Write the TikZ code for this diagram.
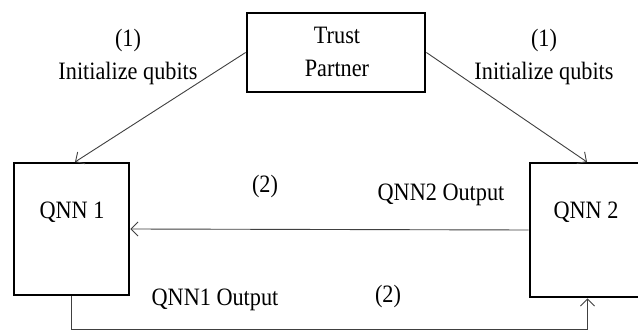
\documentclass[tikz,border=0pt]{standalone}
\usepackage{fontspec}
\setmainfont{Liberation Serif}[FakeStretch=0.89]
\usetikzlibrary{arrows.meta}
\begin{document}
\begin{tikzpicture}[x=1pt,y=-1pt,
  box/.style={draw=black,line width=2.8pt,inner sep=0pt},
  conn/.style={draw=black!75,line width=0.9pt},
  tip/.style={-{Straight Barb[length=7pt,width=14pt,line width=0.9pt]}},
  lbl/.style={inner sep=0pt,font=\fontsize{25}{33}\selectfont,align=center}]
\useasboundingbox (0,0) rectangle (638,331);
\fill[white] (0,0) rectangle (638,331);
\node[box,minimum width=178pt,minimum height=79pt] (tp) at (336,52.5) {};
\node[lbl] (tpt) at (337,52) {Trust\\Partner};
\node[box,minimum width=115pt,minimum height=132pt] (q1) at (71.5,229) {};
\node[lbl] (q1t) at (72,212) {QNN 1};
\node[box,minimum width=115pt,minimum height=134pt] (q2) at (587.5,230) {};
\node[lbl] (q2t) at (586,212) {QNN 2};
\node[lbl] (l1) at (128,57) {(1)\\Initialize qubits};
\node[lbl] (r1) at (544,57) {(1)\\Initialize qubits};
\node[lbl] (c2a) at (265,186) {(2)};
\node[lbl] (o2) at (441,195) {QNN2 Output};
\node[lbl] (o1) at (215,300) {QNN1 Output};
\node[lbl] (c2b) at (388,296) {(2)};
\coordinate (e1) at (75,162);
\coordinate (e2) at (587,162);
\draw[conn,tip] (tp.west) -- (e1);
\draw[conn,tip] (tp.east) -- (e2);
\draw[conn,tip] (q2.west) -- (q1.east);
\draw[conn,tip] (q1.south) -- ++(0,33.5) -| (q2.south);
\end{tikzpicture}
\end{document}
